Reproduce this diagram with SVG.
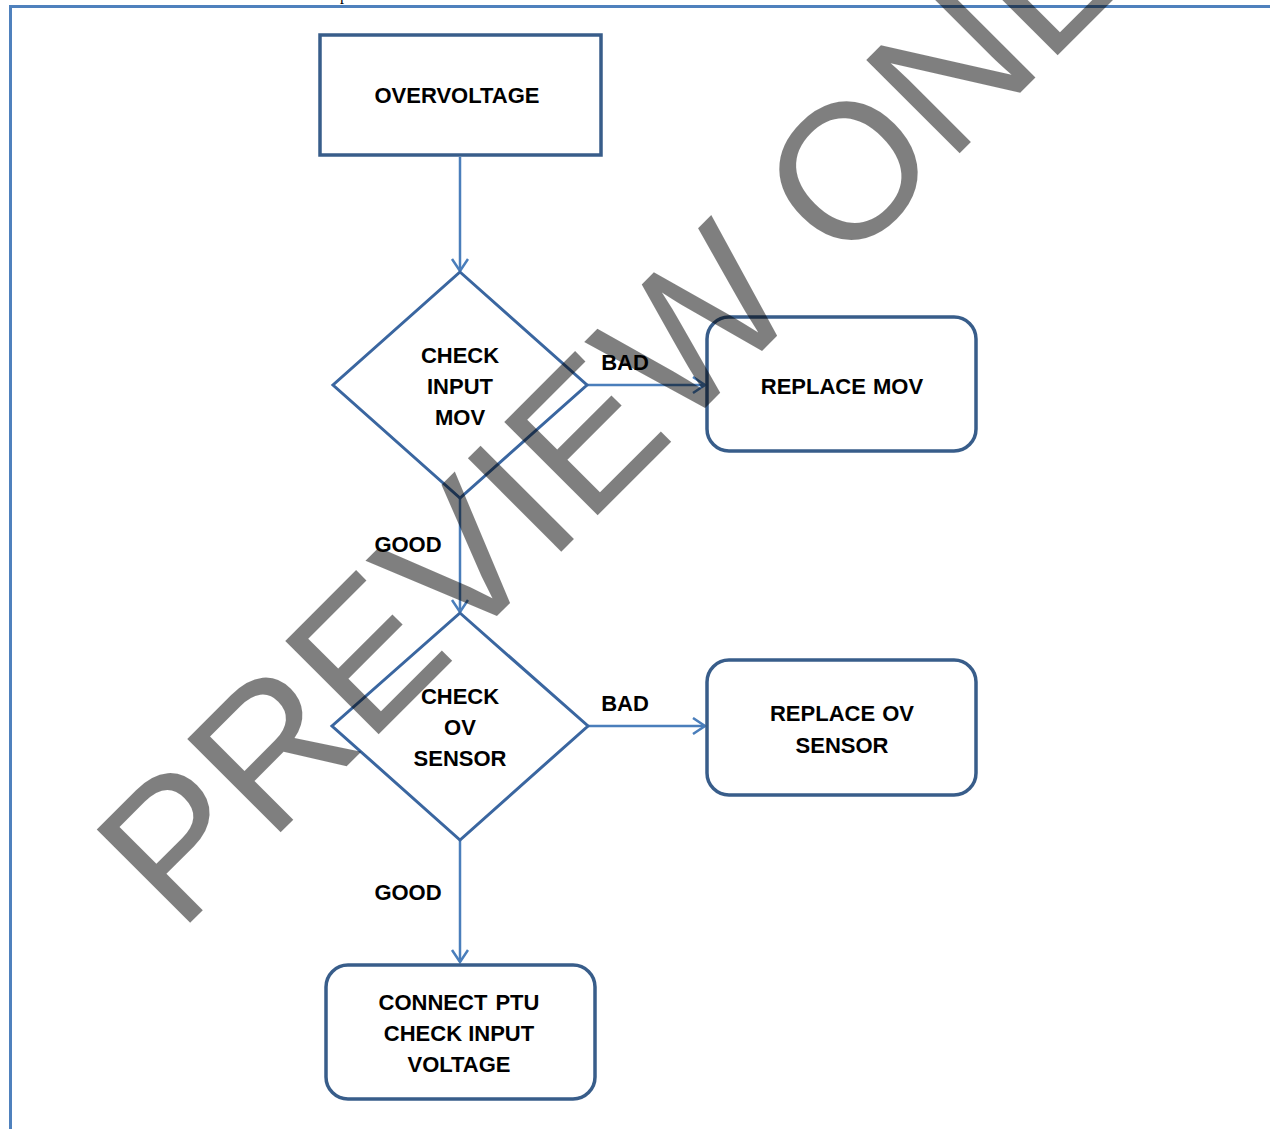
<svg xmlns="http://www.w3.org/2000/svg" width="1270" height="1129" viewBox="0 0 1270 1129">
<style>
.t{font-family:"Liberation Sans",Arial,sans-serif;font-weight:bold;font-size:22px;fill:#000;text-anchor:middle}
.box{fill:#fff;stroke:#385d8a;stroke-width:3.5}
.dia{fill:#fff;stroke:#3a66a0;stroke-width:3}
.con{fill:none;stroke:#4a7ebb;stroke-width:2.5}
.wm{font-family:"Liberation Sans",Arial,sans-serif;font-size:192px;fill:#000;fill-opacity:0.5}
</style>
<defs>
<marker id="arr" markerUnits="userSpaceOnUse" markerWidth="18" markerHeight="20" refX="14" refY="9" orient="auto">
<path d="M2,1 L14,9 L2,17" fill="none" stroke="#4a7ebb" stroke-width="2.5"/>
</marker>
</defs>
<rect width="1270" height="1129" fill="#fff"/>
<g id="page">
<line x1="9" y1="6.5" x2="1270" y2="6.5" stroke="#4f81bd" stroke-width="3"/>
<line x1="10.5" y1="5" x2="10.5" y2="1129" stroke="#4f81bd" stroke-width="3"/>
<text x="340" y="0" font-family="Liberation Serif,serif" font-size="16">p</text>
</g>
<g id="connectors">
<line class="con" x1="460" y1="157" x2="460" y2="271" marker-end="url(#arr)"/>
<line class="con" x1="587" y1="385" x2="705" y2="385" marker-end="url(#arr)"/>
<line class="con" x1="460" y1="498" x2="460" y2="612" marker-end="url(#arr)"/>
<line class="con" x1="588" y1="726" x2="705" y2="726" marker-end="url(#arr)"/>
<line class="con" x1="460" y1="840" x2="460" y2="962" marker-end="url(#arr)"/>
<text class="t" x="625" y="370">BAD</text>
<text class="t" x="625" y="711">BAD</text>
<text class="t" x="408" y="552">GOOD</text>
<text class="t" x="408" y="900">GOOD</text>
</g>
<g id="overvoltage">
<rect class="box" x="320" y="35" width="281" height="120"/>
<text class="t" x="457" y="103">OVERVOLTAGE</text>
</g>
<g id="check-input-mov">
<polygon class="dia" points="460,272 587,385 460,498 333,385"/>
<text class="t" x="460" y="363">CHECK</text>
<text class="t" x="460" y="394">INPUT</text>
<text class="t" x="460" y="425">MOV</text>
</g>
<g id="replace-mov">
<rect class="box" x="707" y="317" width="269" height="134" rx="22"/>
<text class="t" x="842" y="394" word-spacing="1">REPLACE MOV</text>
</g>
<g id="check-ov-sensor">
<polygon class="dia" points="460,613 588,726 460,840 332,726"/>
<text class="t" x="460" y="704">CHECK</text>
<text class="t" x="460" y="735">OV</text>
<text class="t" x="460" y="766">SENSOR</text>
</g>
<g id="replace-ov-sensor">
<rect class="box" x="707" y="660" width="269" height="135" rx="22"/>
<text class="t" x="842" y="721" word-spacing="1">REPLACE OV</text>
<text class="t" x="842" y="753">SENSOR</text>
</g>
<g id="connect-ptu">
<rect class="box" x="326" y="965" width="269" height="134" rx="22"/>
<text class="t" x="459" y="1010" word-spacing="2">CONNECT PTU</text>
<text class="t" x="459" y="1041">CHECK INPUT</text>
<text class="t" x="459" y="1072">VOLTAGE</text>
</g>
<g id="watermark">
<text class="wm" transform="translate(179,934) rotate(-45)">PREVIEW ONLY</text>
</g>
</svg>
